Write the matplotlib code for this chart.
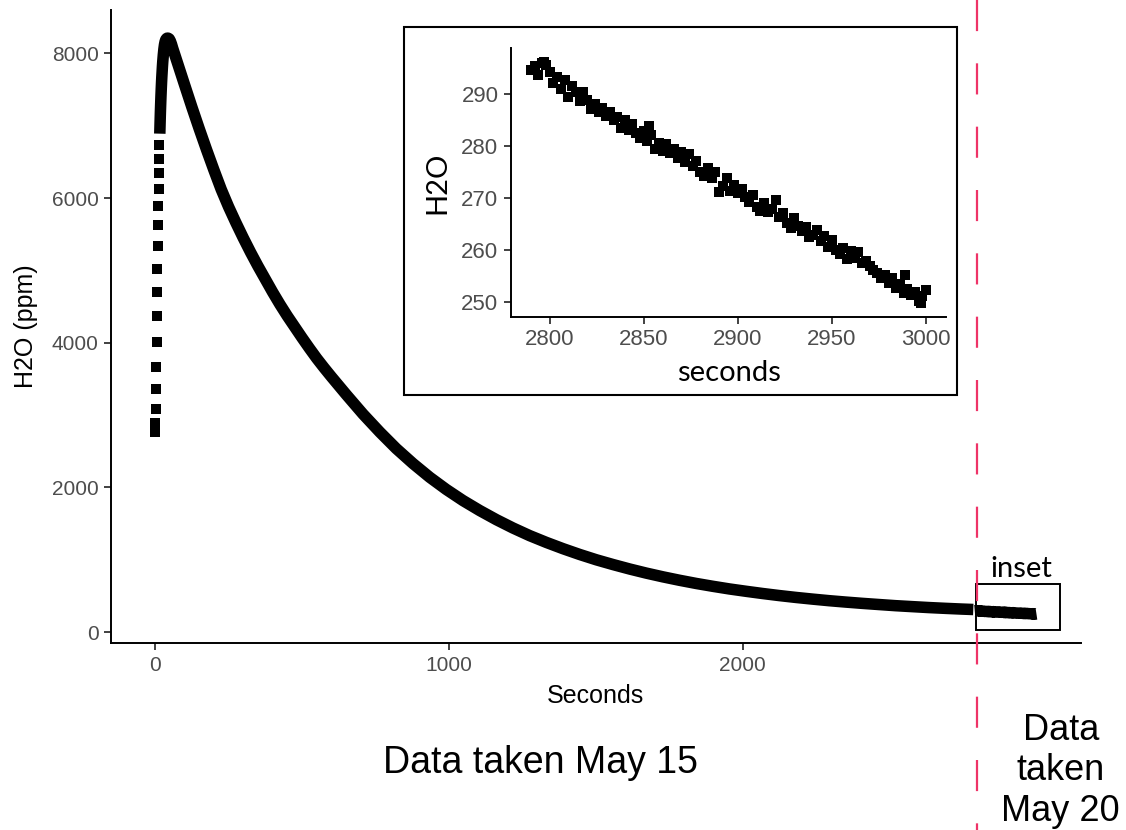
import matplotlib.pyplot as plt
import matplotlib.transforms as mtransforms
from matplotlib.patches import Rectangle
from matplotlib.lines import Line2D

plt.rcParams["font.family"] = ["Liberation Sans", "DejaVu Sans"]

# May 15 run: first seconds, one reading per second while the analyser fills
rise_sec = [0, 1, 2, 3, 4, 5, 6, 7, 8, 9, 10, 11, 12, 13, 14, 15]
rise_h2o = [2767, 2892, 3090, 3366, 3666, 4011, 4366, 4702, 5025, 5333,
            5623, 5886, 6130, 6346, 6545, 6728]

# May 15 run: top of the peak and the long decay
decay_sec = [16, 17, 18, 19, 20, 21, 22, 23, 24, 25, 26, 27, 28, 29, 30,
             32, 34, 36, 38, 41, 44, 48, 52, 56, 60, 70, 80, 90,
             100, 125, 150, 175, 200, 225, 250, 275, 300, 325, 350, 375,
             400, 425, 450, 475, 500, 525, 550, 575, 600, 651, 708, 765,
             821, 878, 935, 991, 1048, 1105, 1162, 1218, 1275, 1332, 1389,
             1445, 1502, 1559, 1616, 1672, 1729, 1785, 1842, 1898, 1955,
             2011, 2068, 2124, 2181, 2237, 2294, 2350, 2407, 2463, 2520,
             2576, 2633, 2690, 2746, 2785]
decay_h2o = [6890, 7040, 7180, 7300, 7410, 7510, 7600, 7680, 7750, 7820,
             7880, 7930, 7980, 8020, 8060, 8120, 8160, 8185, 8200, 8210,
             8210, 8200, 8170, 8125, 8070, 7945, 7820, 7695,
             7570, 7260, 6960, 6670, 6390, 6120, 5880, 5660, 5450, 5250,
             5060, 4880, 4700, 4530, 4370, 4220, 4070, 3925, 3785, 3655,
             3530, 3282, 3013, 2765, 2537, 2330, 2140, 1973, 1819, 1681,
             1554, 1440, 1334, 1240, 1153, 1074, 1000, 934, 872, 816, 764,
             717, 673, 634, 597, 565, 534, 506, 480, 457, 435, 416, 398,
             382, 366, 353, 340, 329, 319, 313]

# May 20 run (shown in the inset)
inset_sec = [2790, 2792, 2794, 2796, 2797, 2798, 2800, 2802, 2804, 2806,
             2808, 2810, 2812, 2814, 2816, 2818, 2820, 2822, 2824, 2826,
             2828, 2830, 2832, 2834, 2836, 2838, 2840, 2842, 2844, 2846,
             2848, 2850, 2852, 2853, 2854, 2856, 2858, 2860, 2862, 2864,
             2866, 2868, 2870, 2872, 2874, 2876, 2878, 2880, 2882, 2884,
             2886, 2888, 2890, 2892, 2894, 2896, 2898, 2900, 2902, 2904,
             2906, 2908, 2910, 2912, 2914, 2916, 2918, 2920, 2922, 2924,
             2926, 2928, 2930, 2932, 2934, 2936, 2938, 2940, 2942, 2944,
             2946, 2948, 2950, 2952, 2954, 2956, 2958, 2960, 2962, 2964,
             2966, 2968, 2970, 2972, 2974, 2976, 2978, 2980, 2982, 2984,
             2986, 2988, 2989, 2990, 2992, 2994, 2996, 2997, 2998, 3000]
inset_h2o = [294.6, 295.3, 293.6, 296.0, 296.2, 295.5, 294.2, 292.0, 293.2,
             291.0, 292.6, 289.3, 291.6, 290.4, 288.6, 290.3, 288.8, 287.0,
             288.0, 286.5, 287.2, 285.8, 286.6, 284.9, 285.6, 283.5, 284.9,
             283.1, 284.2, 282.4, 281.6, 282.9, 281.0, 283.8, 282.2, 279.4,
             280.5, 279.1, 280.3, 278.6, 279.5, 277.6, 278.9, 277.0, 278.4,
             276.2, 277.2, 275.0, 274.3, 275.8, 273.8, 275.0, 271.2, 272.4,
             273.9, 271.3, 272.5, 271.0, 271.8, 270.2, 269.3, 270.6, 268.2,
             267.6, 269.0, 267.4, 267.9, 269.6, 266.4, 267.1, 265.3, 264.2,
             266.1, 264.6, 263.6, 264.5, 262.6, 262.9, 263.9, 261.8, 262.8,
             260.7, 261.9, 260.0, 259.3, 260.4, 258.4, 259.9, 258.6, 259.7,
             257.6, 258.0, 256.9, 256.3, 255.6, 254.6, 255.3, 253.8, 254.6,
             252.8, 253.6, 251.8, 255.3, 252.6, 251.4, 252.0, 250.3, 249.8,
             251.2, 252.4]

fig = plt.figure(figsize=(11.26, 8.3), dpi=100)

# main panel
ax = fig.add_axes([0.0986, 0.2253, 0.861, 0.7627])
ax.plot(rise_sec, rise_h2o, ls="none", marker="s", ms=7.6, mew=0,
        color="black", zorder=3)
ax.plot(decay_sec, decay_h2o, color="black", lw=8.3, solid_joinstyle="round",
        solid_capstyle="butt", zorder=2)
ax.plot(inset_sec, inset_h2o, color="black", lw=8.3, solid_joinstyle="round",
        solid_capstyle="butt", zorder=3)

ax.set_xlim(-150, 3150)
ax.set_ylim(-150, 8600)
ax.set_xticks([0, 1000, 2000])
ax.set_yticks([0, 2000, 4000, 6000, 8000])
for side in ("top", "right"):
    ax.spines[side].set_visible(False)
for side in ("left", "bottom"):
    ax.spines[side].set_linewidth(1.4)
ax.tick_params(length=5, width=1.3, color="#333333", labelcolor="#4d4d4d",
               labelsize=15, pad=4)
ax.set_xlabel("Seconds", fontsize=18, labelpad=7)
ax.set_ylabel("H2O (ppm)", fontsize=18, labelpad=10)

# box marking where the inset comes from
ax.add_patch(Rectangle((2795, 30), 285, 630, fill=False, lw=1.4,
                       ec="black", zorder=4))
ax.text(2950, 760, "inset", ha="center", va="baseline", fontsize=21,
        family=["Lato", "DejaVu Sans"])

# divider between the two measurement days, across the whole figure
trans = mtransforms.blended_transform_factory(ax.transData, fig.transFigure)
fig.add_artist(Line2D([2797, 2797], [1.0, 0.0], transform=trans,
                      color="#ee3367", lw=1.6, dashes=(14, 14.5),
                      dash_capstyle="butt"))

fig.text(0.4796, 0.081, "Data taken May 15", ha="center", va="center",
         fontsize=27)
fig.text(0.942, 0.0715, "Data\ntaken\nMay 20", ha="center", va="center",
         fontsize=26, linespacing=1.2)

# inset frame and panel
fig.add_artist(Rectangle((0.3588, 0.5241), 0.4911, 0.4434,
                         transform=fig.transFigure, fc="white", ec="black",
                         lw=1.5, zorder=1))
axi = fig.add_axes([0.4538, 0.6181, 0.3863, 0.3241], zorder=2)
axi.plot(inset_sec, inset_h2o, ls="none", marker="s", ms=7.8, mew=0,
         color="black")
axi.set_xlim(2779.5, 3010.5)
axi.set_ylim(247.2, 298.8)
axi.set_xticks([2800, 2850, 2900, 2950, 3000])
axi.set_yticks([250, 260, 270, 280, 290])
axi.patch.set_alpha(0)
for side in ("top", "right"):
    axi.spines[side].set_visible(False)
for side in ("left", "bottom"):
    axi.spines[side].set_linewidth(1.4)
axi.tick_params(length=5, width=1.3, color="#333333", labelcolor="#4d4d4d",
                labelsize=16, pad=4)
axi.set_xlabel("seconds", fontsize=21, family=["Lato", "DejaVu Sans"],
               labelpad=7)
axi.set_ylabel("H2O", fontsize=21, family=["Lato", "DejaVu Sans"],
               labelpad=8)

fig.savefig("out.png", dpi=100)
